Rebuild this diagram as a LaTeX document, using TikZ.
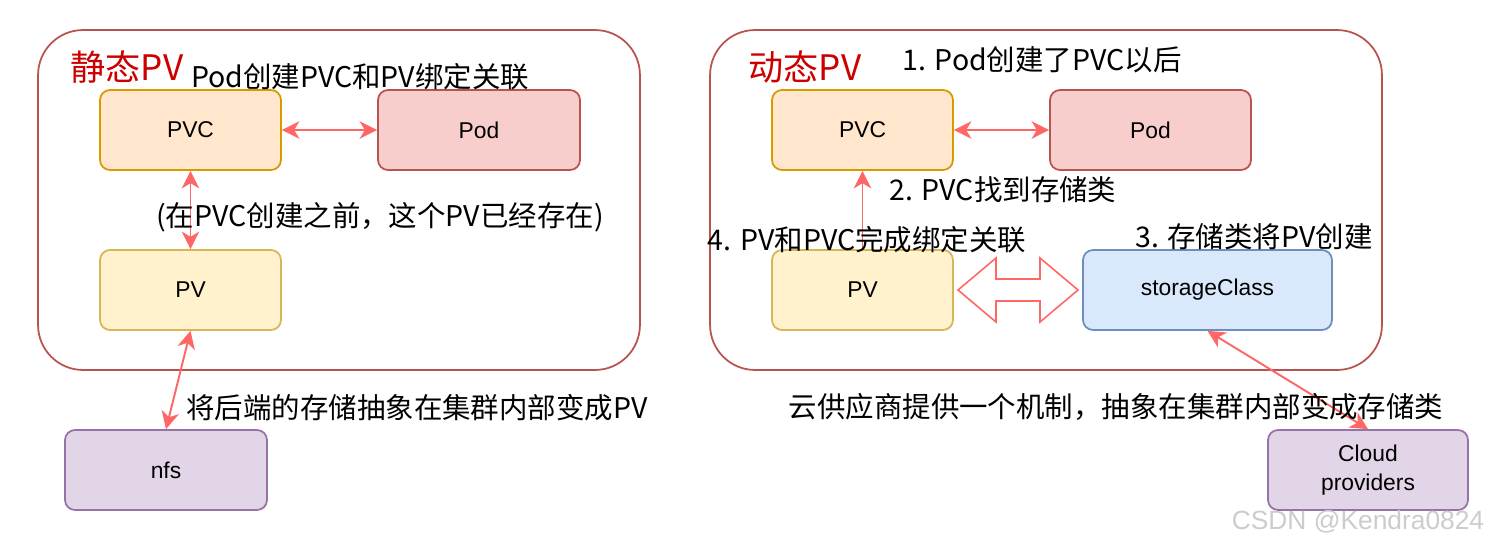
\documentclass[tikz,border=0pt]{standalone}
\usepackage{fontspec}
\setmainfont{Liberation Sans}
\newfontfamily\cjk{Noto Sans CJK SC}
\usetikzlibrary{arrows.meta,calc}
\definecolor{pvcfill}{HTML}{FFE6CC}
\definecolor{pvcline}{HTML}{D79B00}
\definecolor{podfill}{HTML}{F8CECC}
\definecolor{podline}{HTML}{B85450}
\definecolor{pvfill}{HTML}{FFF2CC}
\definecolor{pvline}{HTML}{D6B656}
\definecolor{nfsfill}{HTML}{E1D5E7}
\definecolor{nfsline}{HTML}{9673A6}
\definecolor{scfill}{HTML}{DAE8FC}
\definecolor{scline}{HTML}{6C8EBF}
\definecolor{linkred}{HTML}{FF6666}
\definecolor{titlered}{HTML}{CC0000}

\begin{document}
\begin{tikzpicture}[x=0.02cm,y=-0.02cm]
\tikzset{box/.style = {shape=rectangle,draw,rounded corners=0.2cm,line width=1pt,minimum width=3.62cm,minimum height=1.6cm,align=center,font=\fontsize{13}{16.5}\selectfont}}
\tikzset{frame/.style = {shape=rectangle,draw=podline,line width=1pt,rounded corners=0.9cm,minimum height=6.8cm}}
\tikzset{note/.style = {font=\cjk\fontsize{16.2}{19}\selectfont,inner sep=0pt}}
\tikzset{title/.style = {text=titlered,font=\cjk\fontsize{20}{24}\selectfont,inner sep=0pt}}
\tikzset{link/.style = {<->,>={Stealth[length=10pt,width=10pt,inset=3pt]},draw=linkred,line width=1.1pt}}
\useasboundingbox[fill=white] (0,0) rectangle (1493,548);
% frames
\node[frame,minimum width=12.04cm] (static) at (339,200) {};
\node[frame,minimum width=13.44cm] (dynamic) at (1046,200) {};
% static PV
\node[box,fill=pvcfill,draw=pvcline] (pvc1) at (190.5,130) {PVC};
\node[box,fill=podfill,draw=podline,minimum width=4.04cm] (pod1) at (479,130) {Pod};
\node[box,fill=pvfill,draw=pvline] (pv1) at (190.5,290) {PV};
\node[box,fill=nfsfill,draw=nfsline,minimum width=4.04cm] (nfs) at (166,470) {nfs};
\draw[link] (pvc1.east) -- (pod1.west);
\draw[link] (pvc1.south) -- (pv1.north);
\draw[link] (pv1.south) -- (nfs.north);
% dynamic PV
\node[box,fill=pvcfill,draw=pvcline] (pvc2) at (862.5,130) {PVC};
\node[box,fill=podfill,draw=podline,minimum width=4.02cm] (pod2) at (1150.5,130) {Pod};
\node[box,fill=pvfill,draw=pvline] (pv2) at (862.5,290) {PV};
\node[box,fill=scfill,draw=scline,minimum width=4.98cm] (sc) at (1207.5,290) {storageClass};
\node[box,fill=nfsfill,draw=nfsline,minimum width=4cm] (cloud) at (1368,470) {Cloud\\providers};
\draw[link] (pvc2.east) -- (pod2.west);
\draw[link,<-] (pvc2.south) -- (pv2.north);
\draw[link] (sc.south) -- (cloud.north);
\coordinate (bind) at ($(pv2.east)!0.5!(sc.west)$);
\draw[linkred,line width=0.9pt] (bind) ++(-60,0) -- ++(38,-32) -- ++(0,21) -- ++(44,0) -- ++(0,-21)
  -- ++(38,32) -- ++(-38,32) -- ++(0,-21) -- ++(-44,0) -- ++(0,21) -- cycle;
% texts
\node[title] (t1) at (127,67) {静态PV};
\node[title] (t2) at (805,67) {动态PV};
\node[note] (n1) at (360,77) {Pod创建PVC和PV绑定关联};
\node[note] (n2) at (380,217) {(在PVC创建之前，这个PV已经存在)};
\node[note] (n3) at (417,408) {将后端的存储抽象在集群内部变成PV};
\node[note] (n4) at (1042,60) {1. Pod创建了PVC以后};
\node[note] (n5) at (1003,190) {2. PVC找到存储类};
\node[note] (n6) at (867,240) {4. PV和PVC完成绑定关联};
\node[note] (n7) at (1254,237) {3. 存储类将PV创建};
\node[note] (n8) at (1116,407) {云供应商提供一个机制，抽象在集群内部变成存储类};
\node[text=gray!40,font=\fontsize{15}{17}\selectfont,inner sep=0pt] (mark) at (1358,522) {CSDN @Kendra0824};
\end{tikzpicture}
\end{document}
